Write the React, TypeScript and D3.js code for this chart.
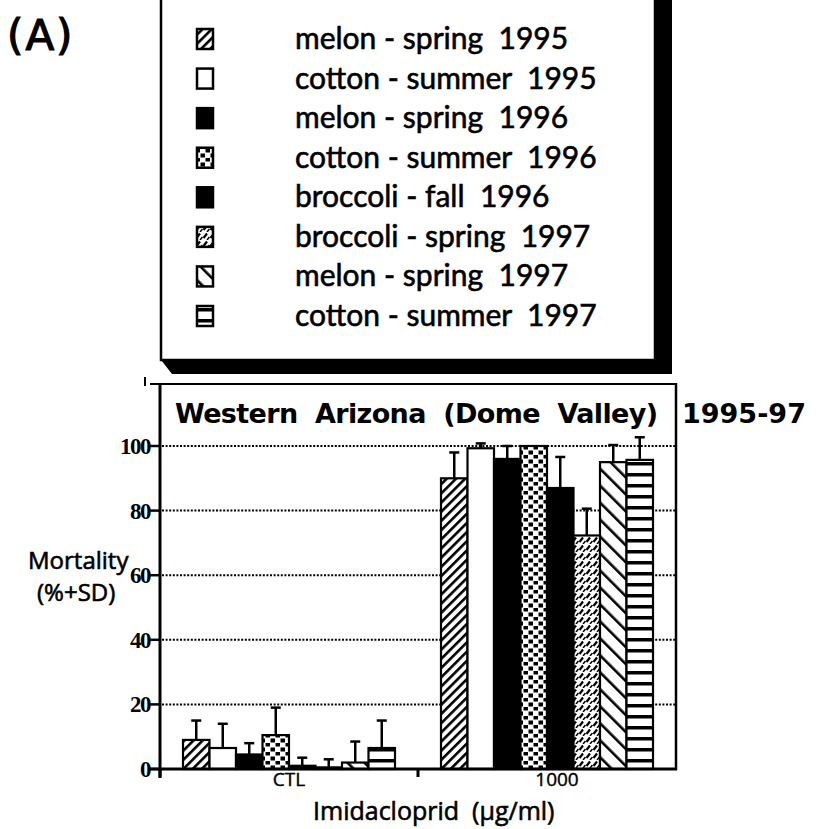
import React from 'react';
import * as d3 from 'd3';

const groups = ['CTL', '1000'];
const seriesNames = [
  'melon - spring  1995',
  'cotton - summer  1995',
  'melon - spring  1996',
  'cotton - summer  1996',
  'broccoli - fall  1996',
  'broccoli - spring  1997',
  'melon - spring  1997',
  'cotton - summer  1997',
];
const ctlMeans = [9, 6.5, 4.5, 10.5, 1, 0.5, 2, 6.5];
const ctlSD = [6, 7.5, 3.5, 8.5, 2.5, 2.5, 6.5, 8.5];
const hiMeans = [90, 99.3, 96, 100, 87, 72.3, 95, 95.7];
const hiSD = [8, 1.5, 4, 0, 9.6, 8.3, 5.3, 7];
const yTicks = [0, 20, 40, 60, 80, 100];
const fills = ['url(#p1)', '#fff', '#000', 'url(#p4)', '#000', 'url(#p6)', 'url(#p7)', 'url(#p8)'];

const W = 816;
const H = 829;

export default function App() {
  const x0 = d3.scaleBand().domain(groups).range([160, 676]).paddingInner(0).paddingOuter(0);
  const x1 = d3.scaleBand().domain(seriesNames).range([0, x0.bandwidth()]).paddingInner(0).paddingOuter(0.868);
  const y = d3.scaleLinear().domain([0, 100]).range([769, 446]);
  const data = [ctlMeans, hiMeans];
  const sds = [ctlSD, hiSD];
  const legendY = d3.scaleLinear().domain([0, 7]).range([39, 316]);
  const sans = 'Lato, "Open Sans", sans-serif';
  const open = '"Open Sans", sans-serif';

  return (
    <svg width={W} height={H} style={{ position: 'absolute', left: 0, top: 0, background: '#fff' }}>
      <defs>
        <pattern id="p1" patternUnits="userSpaceOnUse" width="6.5" height="6.5" patternTransform="rotate(45)">
          <rect width="6.5" height="6.5" fill="#fff" />
          <rect width="2.6" height="6.5" fill="#000" />
        </pattern>
        <pattern id="p4" patternUnits="userSpaceOnUse" width="10" height="9">
          <rect width="10" height="9" fill="#fff" />
          <rect x="0.5" y="0.5" width="4.5" height="4" fill="#000" />
          <rect x="5.5" y="5" width="4.5" height="3.5" fill="#000" />
        </pattern>
        <pattern id="p6" patternUnits="userSpaceOnUse" width="7" height="8">
          <rect width="7" height="8" fill="#fff" />
          <line x1="0.5" y1="6" x2="4" y2="1.5" stroke="#000" strokeWidth="2.2" />
          <line x1="4" y1="8" x2="6.5" y2="5" stroke="#000" strokeWidth="1.5" />
        </pattern>
        <pattern id="p7" patternUnits="userSpaceOnUse" width="12" height="12" patternTransform="rotate(-45)">
          <rect width="12" height="12" fill="#fff" />
          <rect width="2.6" height="12" fill="#000" />
        </pattern>
        <pattern id="p8" patternUnits="userSpaceOnUse" width="10" height="11">
          <rect width="10" height="11" fill="#fff" />
          <rect y="0" width="10" height="3.5" fill="#000" />
        </pattern>
      </defs>

      {/* (A) label */}
      <text x={7} y={50} fontFamily='"DejaVu Sans", sans-serif' fontSize={42} stroke="#000" strokeWidth={1.2} letterSpacing={2}>(A)</text>

      {/* Legend box with shadow */}
      <polygon points="161,360 172,374 672,374 672,-5 655,-5 655,360" fill="#000" />
      <rect x={161} y={-5} width={494} height={365} fill="#fff" stroke="#000" strokeWidth={2.5} />
      {seriesNames.map((s, i) => (
        <g key={s}>
          <rect x={197} y={legendY(i) - 10} width={16} height={20} fill={fills[i]} stroke="#000" strokeWidth={2.5} />
          <text x={295} y={legendY(i) + 10} fontFamily={sans} fontSize={30} stroke="#000" strokeWidth={0.6} style={{ whiteSpace: 'pre' }}>{s}</text>
        </g>
      ))}

      {/* grid lines */}
      {yTicks.filter((t) => t > 0).map((t) => (
        <line key={t} x1={162} x2={675} y1={y(t)} y2={y(t)} stroke="#000" strokeWidth={2} strokeDasharray="2 1.6" />
      ))}

      {/* bars */}
      {groups.map((g, gi) => (
        <g key={g} transform={`translate(${x0(g)},0)`}>
          {seriesNames.map((s, si) => {
            const v = data[gi][si];
            const sd = sds[gi][si];
            const bx = x1(s)!;
            const bw = x1.bandwidth();
            const cx = bx + bw / 2;
            return (
              <g key={s}>
                {sd > 0 && (
                  <g>
                    <line x1={cx} x2={cx} y1={y(v)} y2={y(v + sd)} stroke="#000" strokeWidth={2.5} />
                    <line x1={cx - 5} x2={cx + 5} y1={y(v + sd)} y2={y(v + sd)} stroke="#000" strokeWidth={2.5} />
                  </g>
                )}
                <rect x={bx} y={y(v)} width={bw} height={y(0) - y(v)} fill={fills[si]} stroke="#000" strokeWidth={2.2} />
              </g>
            );
          })}
        </g>
      ))}

      {/* frame */}
      <line x1={150} x2={677} y1={384} y2={384} stroke="#000" strokeWidth={2.2} />
      <line x1={676} x2={676} y1={383} y2={770} stroke="#000" strokeWidth={2.5} />
      <line x1={145} x2={145} y1={377} y2={386} stroke="#000" strokeWidth={2} />
      <line x1={160} x2={160} y1={383} y2={778} stroke="#000" strokeWidth={3} />
      <line x1={150} x2={677} y1={769} y2={769} stroke="#000" strokeWidth={3} />
      {[160, x0('1000')!].map((tx) => (
        <line key={tx} x1={tx} x2={tx} y1={769} y2={777} stroke="#000" strokeWidth={3} />
      ))}

      {/* y ticks */}
      {yTicks.map((t) => (
        <g key={t}>
          <line x1={150} x2={160} y1={y(t)} y2={y(t)} stroke="#000" strokeWidth={2.5} />
          <text x={150} y={y(t) + 8} textAnchor="end" fontFamily='"Liberation Serif", serif' fontWeight={700} fontSize={23} letterSpacing={-1.5}>{t}</text>
        </g>
      ))}

      {/* x labels */}
      {groups.map((g, gi) => (
        <text key={g} x={x0(g)! + x0.bandwidth() / 2 + (gi === 1 ? 10 : 0)} y={786} textAnchor="middle" fontFamily={open} fontSize={19} stroke="#000" strokeWidth={0.4}>{g}</text>
      ))}
      <text x={313} y={820} fontFamily={open} fontSize={25} stroke="#000" strokeWidth={0.6} style={{ whiteSpace: 'pre' }}>Imidacloprid  (μg/ml)</text>

      {/* y label */}
      <text x={28} y={569} fontFamily={open} fontSize={24} stroke="#000" strokeWidth={0.6}>Mortality</text>
      <text x={37} y={601} fontFamily={open} fontSize={24} stroke="#000" strokeWidth={0.6}>(%+SD)</text>

      {/* title */}
      <text x={175} y={423} fontFamily='"DejaVu Sans", sans-serif' fontSize={27} fontWeight={700} textLength={483} lengthAdjust="spacing" style={{ whiteSpace: 'pre' }}>Western  Arizona  (Dome  Valley)</text>
      <text x={682} y={423} fontFamily='"DejaVu Sans", sans-serif' fontSize={27} fontWeight={700}>1995-97</text>
    </svg>
  );
}
